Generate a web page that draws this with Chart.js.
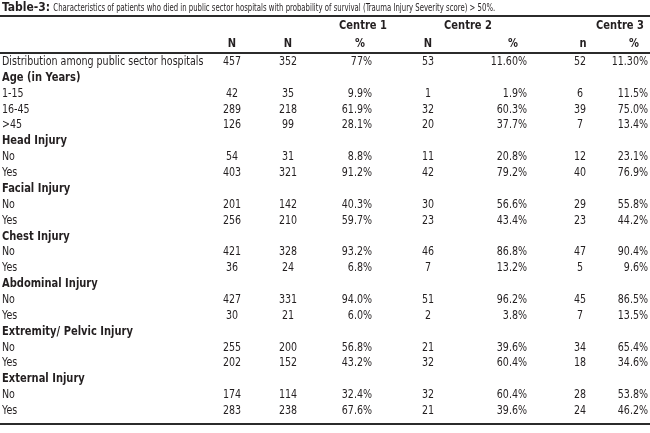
<!DOCTYPE html>
<html lang="en">
<head>
  <meta charset="UTF-8">
  <title>Table 3</title>
  <script src="https://cdn.jsdelivr.net/npm/chart.js"></script>
  <style>
    html, body { margin: 0; padding: 0; background: #fff; }
    #wrap { width: 650px; height: 433px; }
  </style>
</head>
<body>
  <div id="wrap"><canvas id="tableChart" width="650" height="433"></canvas></div>

  <script>
  const TITLE_BOLD = 'Table-3:';
  const TITLE_TEXT = ' Characteristics of patients who died in public sector hospitals with probability of survival (Trauma Injury Severity score) > 50%.';

  const rowLabels = [
    'Distribution among public sector hospitals',
    'Age (in Years)', '1-15', '16-45', '>45',
    'Head Injury', 'No', 'Yes',
    'Facial Injury', 'No', 'Yes',
    'Chest Injury', 'No', 'Yes',
    'Abdominal Injury', 'No', 'Yes',
    'Extremity/ Pelvic Injury', 'No', 'Yes',
    'External Injury', 'No', 'Yes'
  ];
  const groupRows = [1, 5, 8, 11, 14, 17, 20];

  const totalN = [457, null, 42, 289, 126, null, 54, 403, null, 201, 256, null, 421, 36, null, 427, 30, null, 255, 202, null, 174, 283];
  const c1N    = [352, null, 35, 218, 99, null, 31, 321, null, 142, 210, null, 328, 24, null, 331, 21, null, 200, 152, null, 114, 238];
  const c1Pct  = ['77%', null, '9.9%', '61.9%', '28.1%', null, '8.8%', '91.2%', null, '40.3%', '59.7%', null, '93.2%', '6.8%', null, '94.0%', '6.0%', null, '56.8%', '43.2%', null, '32.4%', '67.6%'];
  const c2N    = [53, null, 1, 32, 20, null, 11, 42, null, 30, 23, null, 46, 7, null, 51, 2, null, 21, 32, null, 32, 21];
  const c2Pct  = ['11.60%', null, '1.9%', '60.3%', '37.7%', null, '20.8%', '79.2%', null, '56.6%', '43.4%', null, '86.8%', '13.2%', null, '96.2%', '3.8%', null, '39.6%', '60.4%', null, '60.4%', '39.6%'];
  const c3N    = [52, null, 6, 39, 7, null, 12, 40, null, 29, 23, null, 47, 5, null, 45, 7, null, 34, 18, null, 28, 24];
  const c3Pct  = ['11.30%', null, '11.5%', '75.0%', '13.4%', null, '23.1%', '76.9%', null, '55.8%', '44.2%', null, '90.4%', '9.6%', null, '86.5%', '13.5%', null, '65.4%', '34.6%', null, '53.8%', '46.2%'];

  const colHeaders = ['N', 'N', '%', 'N', '%', 'n', '%'];
  const centreNames = ['Centre 1', 'Centre 2', 'Centre 3'];

  // layout (pixel anchors on the x scale, not data)
  const columns = [totalN, c1N, c1Pct, c2N, c2Pct, c3N, c3Pct];
  const colX     = [232, 288, 372, 428, 527, 580, 648];
  const colAlign = ['center', 'center', 'right', 'center', 'right', 'center', 'right'];
  const headX    = [232, 288, 360, 428, 513, 583, 634];
  const centreX  = [363, 468, 620];

  const FONT = '"Liberation Sans Narrow", "DejaVu Sans Condensed", "Roboto", sans-serif';
  const INK = '#231f20';
  const SQUEEZE = 0.92;

  const datasets = columns.map((vals, c) => ({
    label: 'col' + c,
    data: vals.map((v, i) => (v === null ? null : { x: colX[c], y: i, v: v })).filter(p => p),
    pointRadius: 0,
    pointHoverRadius: 0,
    showLine: false
  }));

  // draws text squeezed horizontally around its anchor
  function squeezed(ctx, text, x, y, sx) {
    ctx.save();
    ctx.translate(x, y);
    ctx.scale(sx, 1);
    ctx.fillText(text, 0, 0);
    ctx.restore();
  }

  const tablePlugin = {
    id: 'tableText',
    afterDatasetsDraw(chart) {
      const ctx = chart.ctx;
      const xs = chart.scales.x, ys = chart.scales.y;
      const W = chart.width;
      ctx.save();
      ctx.fillStyle = INK;
      ctx.textBaseline = 'middle';

      // title
      ctx.textAlign = 'left';
      ctx.font = 'bold 12px ' + FONT;
      squeezed(ctx, TITLE_BOLD, 2, 8, 1);
      const bw = ctx.measureText(TITLE_BOLD).width;
      ctx.font = '10.5px ' + FONT;
      const tw = ctx.measureText(TITLE_TEXT).width;
      squeezed(ctx, TITLE_TEXT, 3 + bw, 8, Math.min(1, 444 / tw));

      // rules
      ctx.strokeStyle = '#2b2b2b';
      ctx.lineWidth = 2;
      [16, 53, 424].forEach(y => {
        ctx.beginPath(); ctx.moveTo(0, y); ctx.lineTo(W, y); ctx.stroke();
      });

      // centre headers + column headers
      ctx.font = 'bold 12px ' + FONT;
      ctx.textAlign = 'center';
      centreNames.forEach((t, k) => squeezed(ctx, t, xs.getPixelForValue(centreX[k]), 26, SQUEEZE));
      colHeaders.forEach((t, k) => squeezed(ctx, t, xs.getPixelForValue(headX[k]), 44, SQUEEZE));

      // row labels
      ctx.textAlign = 'left';
      rowLabels.forEach((t, i) => {
        const bold = groupRows.includes(i);
        ctx.font = (bold ? 'bold 12px ' : '11.5px ') + FONT;
        squeezed(ctx, t, 2, ys.getPixelForValue(i), SQUEEZE);
      });

      // cell values
      ctx.font = '11.5px ' + FONT;
      chart.data.datasets.forEach((ds, c) => {
        const meta = chart.getDatasetMeta(c);
        ctx.textAlign = colAlign[c];
        meta.data.forEach((el, j) => {
          squeezed(ctx, String(ds.data[j].v), el.x, el.y, SQUEEZE);
        });
      });
      ctx.restore();
    }
  };

  new Chart(document.getElementById('tableChart'), {
    type: 'scatter',
    data: { datasets: datasets },
    options: {
      responsive: false,
      animation: false,
      events: [],
      layout: { padding: { left: 0, right: 0, top: 62, bottom: 22 } },
      plugins: { legend: { display: false }, tooltip: { enabled: false } },
      scales: {
        x: { type: 'linear', min: 0, max: 650, display: false },
        y: { type: 'linear', min: 0, max: 22, reverse: true, display: false }
      }
    },
    plugins: [tablePlugin]
  });
  </script>
</body>
</html>
